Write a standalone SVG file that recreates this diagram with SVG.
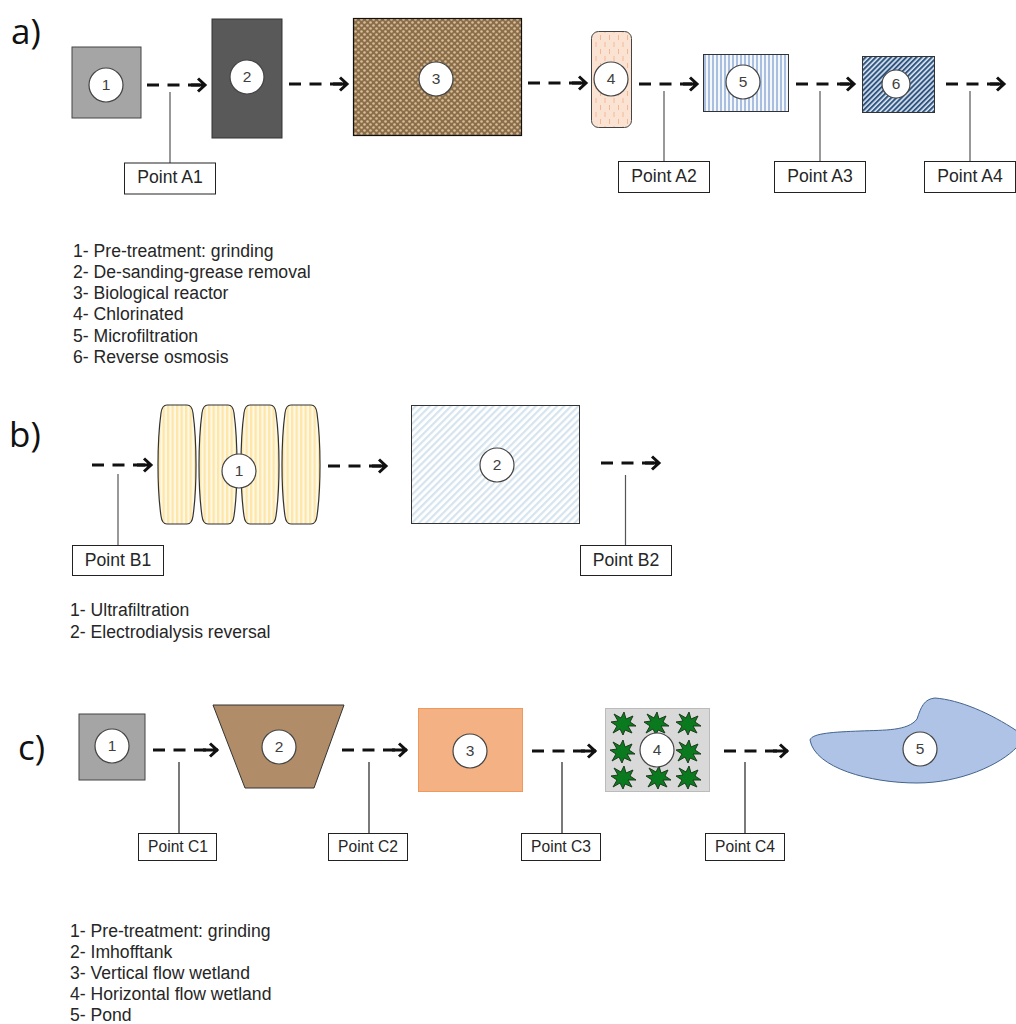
<svg xmlns="http://www.w3.org/2000/svg" xmlns:xlink="http://www.w3.org/1999/xlink" width="1016" height="1024" viewBox="0 0 1016 1024">
<style>
text{font-family:"Liberation Sans",Arial,sans-serif;fill:#262626}
.sec{font-family:"Open Sans","Noto Sans",sans-serif;font-size:35px;fill:#111}
.lst{font-size:17.6px}
.num{font-size:15.5px;text-anchor:middle;fill:#404040}
.pt{font-size:17.6px;text-anchor:middle}
.ptc{font-size:15.6px;text-anchor:middle}
.box{fill:#fff;stroke:#222;stroke-width:1}
.dot{fill:#fff;stroke:#444;stroke-width:1.2}
.flow{fill:none;stroke:#111;stroke-width:3;stroke-dasharray:12 8.500;marker-end:url(#arrow)}
.lead{stroke:#555;stroke-width:1.2;fill:none}
.leadc{stroke:#222;stroke-width:1.2;fill:none}
</style>
<defs>
<marker id="arrow" markerUnits="userSpaceOnUse" markerWidth="20" markerHeight="18" refX="17" refY="8" orient="auto">
<path d="M9,1.500 L16,8 L9,14.500 M2,8 H15.500" fill="none" stroke="#111" stroke-width="3"/>
</marker>
<pattern id="p3" width="6" height="6" patternUnits="userSpaceOnUse">
<rect width="6" height="6" fill="#8a6d4a"/><circle cx="1.500" cy="1.500" r="1.300" fill="#d9bd94"/><circle cx="4.500" cy="4.500" r="1.300" fill="#d9bd94"/>
</pattern>
<pattern id="p4" width="9" height="14" patternUnits="userSpaceOnUse">
<rect width="9" height="14" fill="#fbe3d4"/><path d="M2,0V5M6.500,7V12" stroke="#f3b48c" stroke-width="0.900"/>
</pattern>
<pattern id="p5" width="4" height="4" patternUnits="userSpaceOnUse">
<rect width="4" height="4" fill="#f4f7fb"/><rect width="2" height="4" fill="#a9bfe0"/>
</pattern>
<pattern id="p6" width="3.600" height="3.600" patternUnits="userSpaceOnUse" patternTransform="rotate(-45)">
<rect width="3.600" height="3.600" fill="#dfe7f3"/><rect width="3.600" height="2" fill="#2f5680"/>
</pattern>
<pattern id="pb1" width="4.500" height="4" patternUnits="userSpaceOnUse">
<rect width="4.500" height="4" fill="#fff8e4"/><rect width="2.300" height="4" fill="#fde6a8"/>
</pattern>
<pattern id="pb2" width="5" height="5" patternUnits="userSpaceOnUse" patternTransform="rotate(-45)">
<rect width="5" height="5" fill="#fff"/><rect width="5" height="2.200" fill="#d5e4ee"/>
</pattern>
<path id="plant" d="M1,-12 L3,-5 L10,-8 L7,-2 L13,2 L5,2 L9,9 L2,6 L0,11 L-3,5 L-10,9 L-6,2 L-12,-2 L-5,-3 L-9,-10 L-2,-6 Z" fill="#0a7a1e" stroke="#1d3a1d" stroke-width="1"/>
<path id="lens" d="M9,0 H29 Q34,0 35,8 Q38,30 38,60 Q38,90 35,111 Q34,119 29,119 H9 Q4,119 3,111 Q0,90 0,60 Q0,30 3,8 Q4,0 9,0 Z" fill="url(#pb1)" stroke="#333" stroke-width="1.200"/>
</defs>
<rect width="1016" height="1024" fill="#fff"/>
<text class="sec" x="11" y="44">a)</text>
<text class="sec" x="9" y="447">b)</text>
<text class="sec" x="18" y="760">c)</text>

<g id="connectors">
<path class="flow" d="M147,85H206"/><path class="flow" d="M289,84H348"/><path class="flow" d="M528,83H587"/><path class="flow" d="M639,84H698"/><path class="flow" d="M796,84H855"/><path class="flow" d="M946,84H1005"/>
<path class="flow" d="M92,465H152"/><path class="flow" d="M328,466H387"/><path class="flow" d="M601,463H660"/>
<path class="flow" d="M153,750H218"/><path class="flow" d="M342,750H407"/><path class="flow" d="M532,751H596"/><path class="flow" d="M724,751H788"/>
<path class="lead" d="M170,92V163M664,91V161M820,91V161M970,91V161M118,474V545M625.500,475V545"/>
<path class="leadc" d="M179,762V833M369,762V833M562,762V833M745,762V833"/>
</g>

<g id="a1"><rect x="72" y="47" width="69" height="71" fill="#a5a5a5" stroke="#444"/><circle class="dot" cx="106" cy="85" r="17"/><text class="num" x="106" y="90">1</text></g>
<g id="a2"><rect x="212" y="19" width="70" height="119" fill="#595959" stroke="#333"/><circle class="dot" cx="247" cy="77" r="17"/><text class="num" x="247" y="82">2</text></g>
<g id="a3"><rect x="353.500" y="18.500" width="168" height="117" fill="url(#p3)" stroke="#111" stroke-width="1.200"/><circle class="dot" cx="436" cy="79" r="17"/><text class="num" x="436" y="84">3</text></g>
<g id="a4"><rect x="591.500" y="31.500" width="40" height="96" rx="7" fill="url(#p4)" stroke="#444"/><circle class="dot" cx="611" cy="79" r="17"/><text class="num" x="611" y="84">4</text></g>
<g id="a5"><rect x="703.500" y="54.500" width="85" height="57" fill="url(#p5)" stroke="#333"/><circle class="dot" cx="743" cy="82" r="17"/><text class="num" x="743" y="87">5</text></g>
<g id="a6"><rect x="862.500" y="56.500" width="72" height="56" fill="url(#p6)" stroke="#333"/><circle class="dot" cx="896" cy="84" r="14"/><text class="num" x="896" y="89">6</text></g>

<g id="pointA1"><rect class="box" x="124.500" y="163" width="91" height="31"/><text class="pt" x="170" y="183">Point A1</text></g>
<g id="pointA2"><rect class="box" x="618.500" y="161.500" width="91" height="31"/><text class="pt" x="664" y="182">Point A2</text></g>
<g id="pointA3"><rect class="box" x="774.500" y="161.500" width="91" height="31"/><text class="pt" x="820" y="182">Point A3</text></g>
<g id="pointA4"><rect class="box" x="924.500" y="161.500" width="91" height="31"/><text class="pt" x="970" y="182">Point A4</text></g>

<g id="legendA">
<text class="lst" x="73" y="257">1- Pre-treatment: grinding</text>
<text class="lst" x="73" y="278">2- De-sanding-grease removal</text>
<text class="lst" x="73" y="299">3- Biological reactor</text>
<text class="lst" x="73" y="320">4- Chlorinated</text>
<text class="lst" x="73" y="342">5- Microfiltration</text>
<text class="lst" x="73" y="363">6- Reverse osmosis</text>
</g>

<g id="b1"><use xlink:href="#lens" href="#lens" x="158" y="405"/><use xlink:href="#lens" href="#lens" x="199" y="405"/><use xlink:href="#lens" href="#lens" x="241" y="405"/><use xlink:href="#lens" href="#lens" x="282" y="405"/><circle class="dot" cx="239" cy="471" r="17"/><text class="num" x="239" y="476">1</text></g>
<g id="b2"><rect x="411.500" y="405.500" width="168" height="118" fill="url(#pb2)" stroke="#333"/><circle class="dot" cx="497" cy="465" r="17"/><text class="num" x="497" y="470">2</text></g>
<g id="pointB1"><rect class="box" x="72.500" y="545.500" width="91" height="30"/><text class="pt" x="118" y="566">Point B1</text></g>
<g id="pointB2"><rect class="box" x="580.500" y="545.500" width="91" height="30"/><text class="pt" x="626" y="566">Point B2</text></g>
<g id="legendB">
<text class="lst" x="70" y="616">1- Ultrafiltration</text>
<text class="lst" x="70" y="638">2- Electrodialysis reversal</text>
</g>

<g id="c1"><rect x="79" y="714" width="66" height="66" fill="#a5a5a5" stroke="#444"/><circle class="dot" cx="112" cy="746" r="17"/><text class="num" x="112" y="751">1</text></g>
<g id="c2"><path d="M213,705H344L314,788H245Z" fill="#b08d68" stroke="#333"/><circle class="dot" cx="279" cy="747" r="17"/><text class="num" x="279" y="752">2</text></g>
<g id="c3"><rect x="418.500" y="708.500" width="104" height="83" fill="#f4b183" stroke="#ed9a5c"/><circle class="dot" cx="470" cy="751" r="17"/><text class="num" x="470" y="756">3</text></g>
<g id="c4"><rect x="605.500" y="708.500" width="104" height="83" fill="#d9d9d9" stroke="#bbb"/>
<use xlink:href="#plant" href="#plant" x="623" y="724"/><use xlink:href="#plant" href="#plant" x="656" y="724"/><use xlink:href="#plant" href="#plant" x="688" y="724"/><use xlink:href="#plant" href="#plant" x="622" y="752"/><use xlink:href="#plant" href="#plant" x="688" y="752"/><use xlink:href="#plant" href="#plant" x="623" y="778"/><use xlink:href="#plant" href="#plant" x="658" y="778"/><use xlink:href="#plant" href="#plant" x="688" y="778"/>
<circle class="dot" cx="657" cy="750" r="17"/><text class="num" x="657" y="755">4</text></g>
<g id="c5"><path d="M810,740C812,733 835,732 860,731C885,730 908,731 917,719C921,707 924,699 935,698C960,700 990,713 1017,731V747C1000,765 960,783 917,783C870,783 815,768 810,740Z" fill="#aec3e6" stroke="#44648c"/><circle class="dot" cx="920" cy="749" r="17"/><text class="num" x="920" y="754">5</text></g>

<g id="pointC1"><rect class="box" x="138.500" y="833.500" width="78" height="27"/><text class="ptc" x="178" y="852">Point C1</text></g>
<g id="pointC2"><rect class="box" x="328.500" y="833.500" width="79" height="27"/><text class="ptc" x="368" y="852">Point C2</text></g>
<g id="pointC3"><rect class="box" x="521.500" y="833.500" width="79" height="27"/><text class="ptc" x="561" y="852">Point C3</text></g>
<g id="pointC4"><rect class="box" x="705.500" y="833.500" width="79" height="27"/><text class="ptc" x="745" y="852">Point C4</text></g>
<g id="legendC">
<text class="lst" x="70" y="937">1- Pre-treatment: grinding</text>
<text class="lst" x="70" y="958">2- Imhofftank</text>
<text class="lst" x="70" y="979">3- Vertical flow wetland</text>
<text class="lst" x="70" y="1000">4- Horizontal flow wetland</text>
<text class="lst" x="70" y="1021">5- Pond</text>
</g>
</svg>
